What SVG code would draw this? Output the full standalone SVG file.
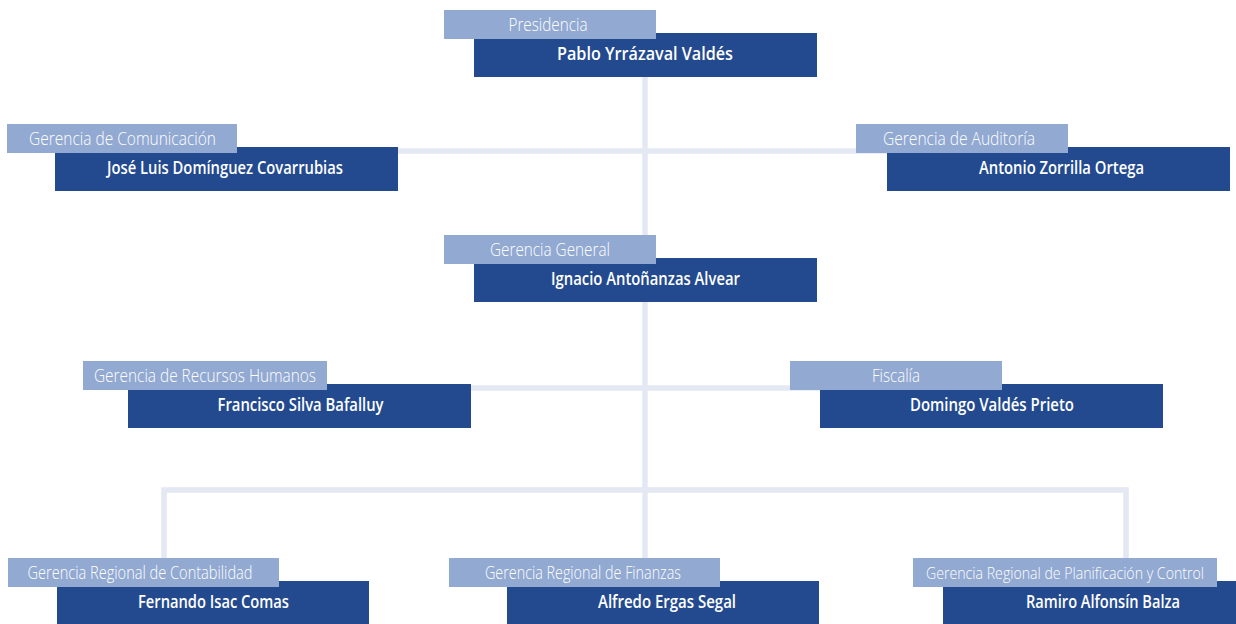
<svg xmlns="http://www.w3.org/2000/svg" width="1236" height="624" viewBox="0 0 1236 624">
<style>
.conn{fill:none;stroke:#e3e8f3;stroke-width:5.5;stroke-linejoin:miter}
.lb{fill:#92a9d2}
.dk{fill:#234a8e}
.lt{font-family:"Open Sans","Liberation Sans",sans-serif;font-weight:300;font-size:17.5px;fill:#ffffff;text-anchor:middle}
.nt{font-family:"Open Sans","Liberation Sans",sans-serif;font-weight:600;font-size:17.5px;fill:#ffffff;text-anchor:middle}
</style>
<rect width="1236" height="624" fill="#ffffff"/>
<g id="connectors">
<path class="conn" d="M645 60 V570"/>
<path class="conn" d="M390 151 H895"/>
<path class="conn" d="M460 388 H830"/>
<path class="conn" d="M164 565 V490 H1126 V565"/>
</g>
<g id="presidencia">
<rect class="dk" x="474" y="33" width="343" height="44"/>
<rect class="lb" x="444" y="10" width="212" height="29"/>
<text class="lt" x="548" y="30.5" textLength="79" lengthAdjust="spacingAndGlyphs">Presidencia</text>
<text class="nt" x="645" y="59.5" textLength="176" lengthAdjust="spacingAndGlyphs">Pablo Yrrázaval Valdés</text>
</g>
<g id="comunicacion">
<rect class="dk" x="55" y="147" width="343" height="44"/>
<rect class="lb" x="7" y="124" width="230" height="29"/>
<text class="lt" x="122.5" y="144.5" textLength="187" lengthAdjust="spacingAndGlyphs">Gerencia de Comunicación</text>
<text class="nt" x="225" y="173.5" textLength="236" lengthAdjust="spacingAndGlyphs">José Luis Domínguez Covarrubias</text>
</g>
<g id="auditoria">
<rect class="dk" x="887" y="147" width="343" height="44"/>
<rect class="lb" x="856" y="124" width="212" height="29"/>
<text class="lt" x="959" y="144.5" textLength="152" lengthAdjust="spacingAndGlyphs">Gerencia de Auditoría</text>
<text class="nt" x="1061.5" y="173.5" textLength="165" lengthAdjust="spacingAndGlyphs">Antonio Zorrilla Ortega</text>
</g>
<g id="general">
<rect class="dk" x="474" y="258" width="343" height="44"/>
<rect class="lb" x="444" y="235" width="212" height="29"/>
<text class="lt" x="550" y="255.5" textLength="120" lengthAdjust="spacingAndGlyphs">Gerencia General</text>
<text class="nt" x="645.5" y="284.5" textLength="189" lengthAdjust="spacingAndGlyphs">Ignacio Antoñanzas Alvear</text>
</g>
<g id="rrhh">
<rect class="dk" x="128" y="384" width="343" height="44"/>
<rect class="lb" x="83" y="361" width="244" height="29"/>
<text class="lt" x="205" y="381.5" textLength="222" lengthAdjust="spacingAndGlyphs">Gerencia de Recursos Humanos</text>
<text class="nt" x="300.5" y="410.5" textLength="166" lengthAdjust="spacingAndGlyphs">Francisco Silva Bafalluy</text>
</g>
<g id="fiscalia">
<rect class="dk" x="820" y="384" width="343" height="44"/>
<rect class="lb" x="790" y="361" width="212" height="29"/>
<text class="lt" x="896" y="381.5" textLength="48" lengthAdjust="spacingAndGlyphs">Fiscalía</text>
<text class="nt" x="992" y="410.5" textLength="164" lengthAdjust="spacingAndGlyphs">Domingo Valdés Prieto</text>
</g>
<g id="contabilidad">
<rect class="dk" x="57" y="581" width="312" height="43"/>
<rect class="lb" x="8" y="558" width="271" height="29"/>
<text class="lt" x="140" y="578.5" textLength="225" lengthAdjust="spacingAndGlyphs">Gerencia Regional de Contabilidad</text>
<text class="nt" x="213.5" y="607.5" textLength="151" lengthAdjust="spacingAndGlyphs">Fernando Isac Comas</text>
</g>
<g id="finanzas">
<rect class="dk" x="507" y="581" width="312" height="43"/>
<rect class="lb" x="449" y="558" width="271" height="29"/>
<text class="lt" x="583" y="578.5" textLength="196" lengthAdjust="spacingAndGlyphs">Gerencia Regional de Finanzas</text>
<text class="nt" x="667" y="607.5" textLength="138" lengthAdjust="spacingAndGlyphs">Alfredo Ergas Segal</text>
</g>
<g id="planificacion">
<rect class="dk" x="943" y="581" width="293" height="43"/>
<rect class="lb" x="913" y="558" width="304" height="29"/>
<text class="lt" x="1065" y="578.5" style="font-size:16px" textLength="278" lengthAdjust="spacingAndGlyphs">Gerencia Regional de Planificación y Control</text>
<text class="nt" x="1103" y="607.5" textLength="154" lengthAdjust="spacingAndGlyphs">Ramiro Alfonsín Balza</text>
</g>
</svg>
